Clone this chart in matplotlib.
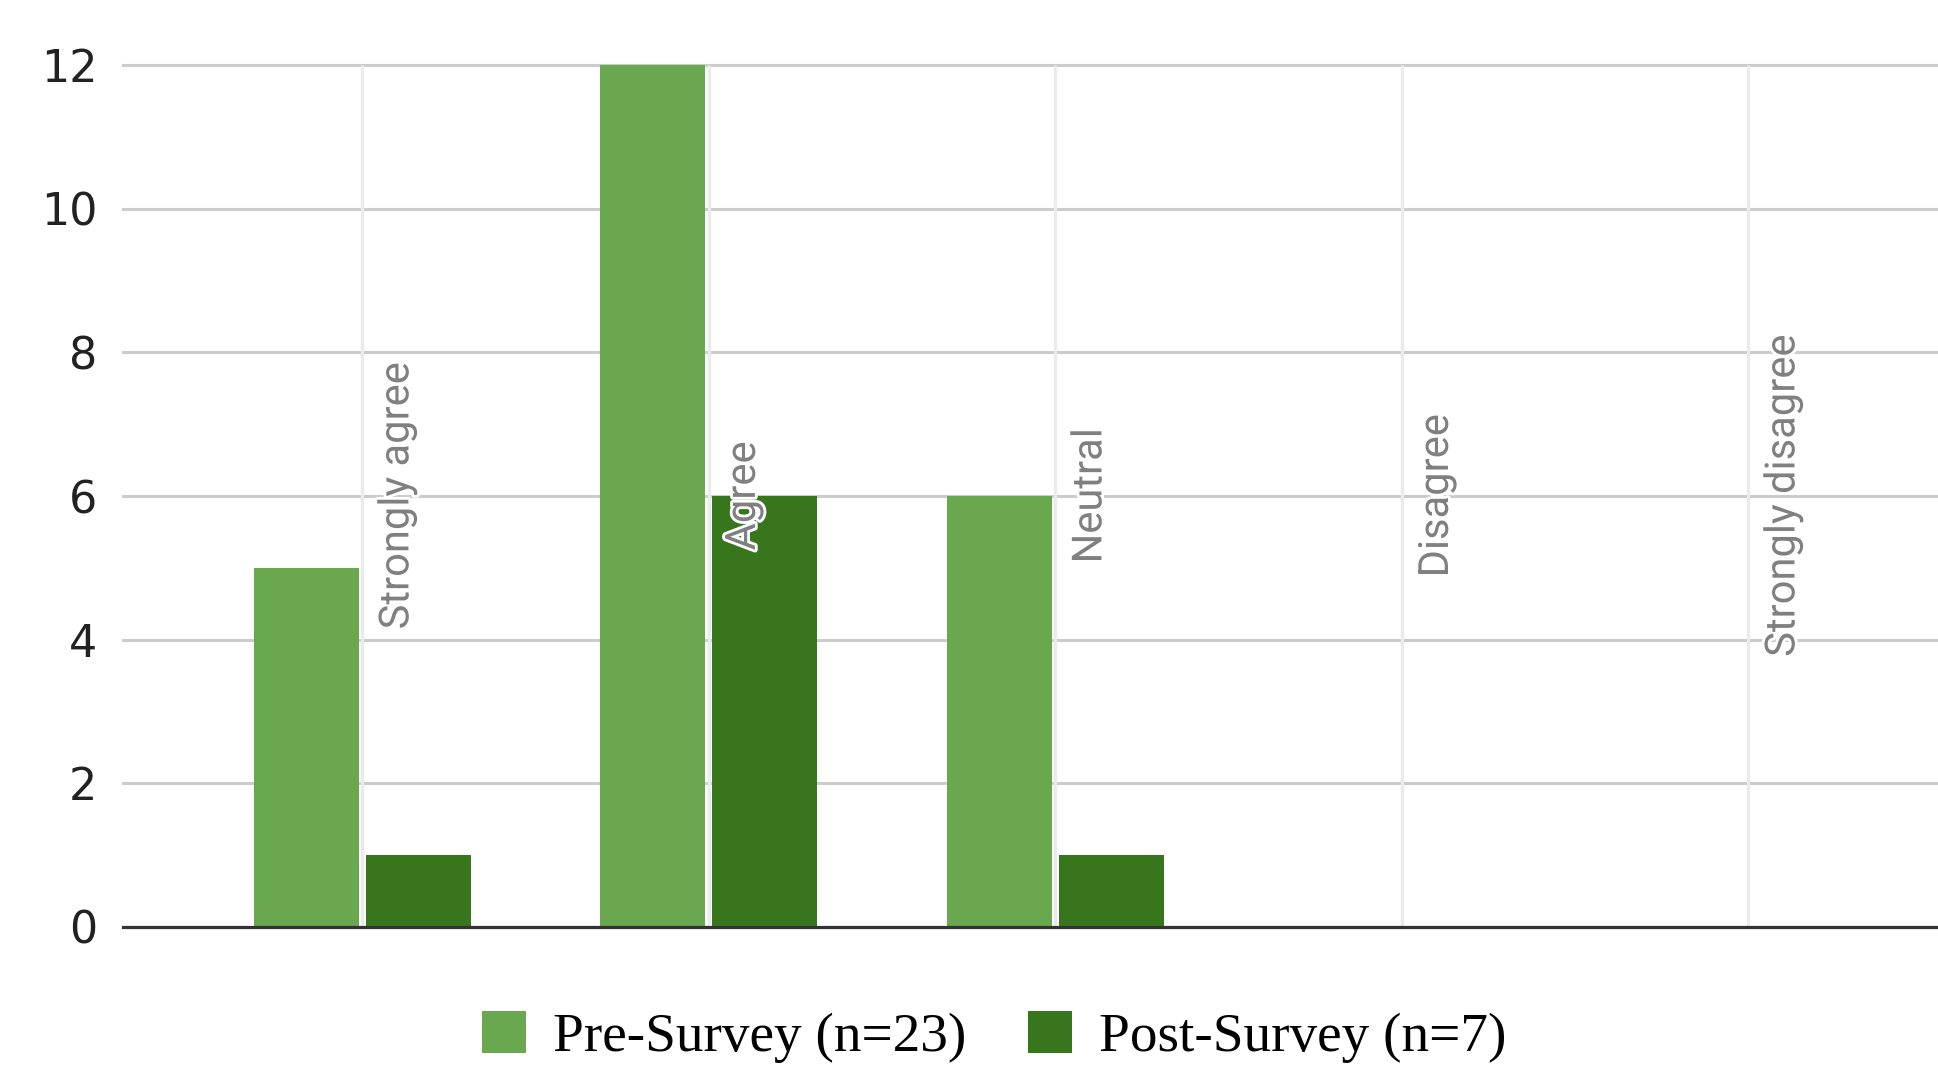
import matplotlib
matplotlib.use("Agg")
import matplotlib.pyplot as plt
import matplotlib.patheffects as pe
import matplotlib.transforms as mtransforms
import numpy as np

categories = ["Strongly agree", "Agree", "Neutral", "Disagree", "Strongly disagree"]
pre_survey = [5, 12, 6, 0, 0]
post_survey = [1, 6, 1, 0, 0]
series_names = ["Pre-Survey (n=23)", "Post-Survey (n=7)"]
y_ticks = [0, 2, 4, 6, 8, 10, 12]

pre_color = "#6aa84f"
post_color = "#38761d"

W, H = 1938, 1068
fig = plt.figure(figsize=(W / 100, H / 100), dpi=100)
ax = fig.add_axes([123 / W, 1 - 927 / H, 1 - 123 / W, (927 - 65) / H])

x = np.arange(len(categories))
bw = 0.303
off = 0.1615
ax.bar(x - off, pre_survey, bw, color=pre_color, zorder=3, label=series_names[0])
ax.bar(x + off, post_survey, bw, color=post_color, zorder=3, label=series_names[1])

# grid
ax.set_ylim(0, 12)
ax.set_xlim(-0.691, 4.547)
ax.set_yticks(y_ticks)
ax.set_xticks([])
ax.yaxis.grid(True, color="#cccccc", lw=2.2, zorder=1)
for gl in ax.get_ygridlines():
    gl.set_clip_on(False)
ax.vlines(x, 0, 12, color="#ebebeb", lw=2.4, zorder=1.5, clip_on=False)
ax.axhline(0, color="#333333", lw=2.3, zorder=4, clip_on=False)
ax.set_axisbelow(True)
for s in ax.spines.values():
    s.set_visible(False)
ax.tick_params(axis="y", length=0, pad=18.5, labelsize=32, labelcolor="#222222")
for t in ax.get_yticklabels():
    t.set_fontfamily("DejaVu Sans")

# category labels, rotated inside the plot
lab_trans = mtransforms.offset_copy(ax.transData, fig=fig, x=14, y=0, units="dots")
for i, c in enumerate(categories):
    ax.text(i, 6, c, rotation=90, ha="left", va="center", transform=lab_trans,
            fontsize=30, family="Roboto", color="#808080", zorder=5,
            path_effects=[pe.withStroke(linewidth=4, foreground="white")])

fig.legend(loc="center", bbox_to_anchor=(0.513, 1 - 1037 / H), ncol=2, frameon=False,
           prop={"family": "Liberation Serif", "size": 39.8},
           handlelength=0.8, handleheight=0.78, handletextpad=0.5, columnspacing=1.1)

fig.savefig("out.png", dpi=100)
